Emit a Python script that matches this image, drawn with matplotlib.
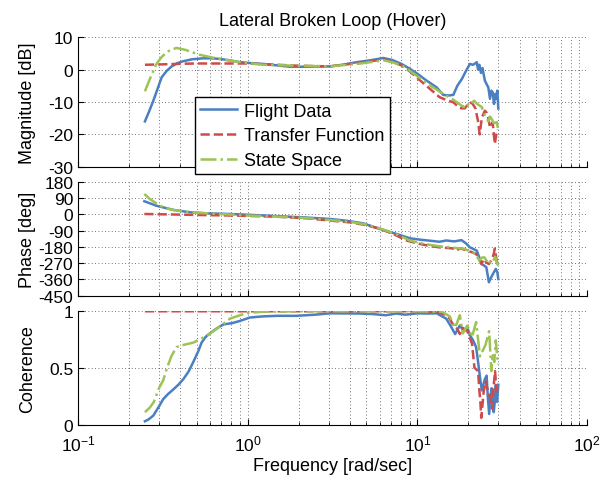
import matplotlib
matplotlib.use("Agg")
import matplotlib.pyplot as plt
from matplotlib.ticker import LogLocator, NullFormatter

plt.rcParams['font.family'] = ['Liberation Sans', 'DejaVu Sans']
plt.rcParams['axes.unicode_minus'] = False
plt.rcParams['mathtext.fontset'] = 'custom'
plt.rcParams['mathtext.rm'] = 'Liberation Sans'

# --- magnitude [dB] ---
mag_fd_w = [0.248, 0.263, 0.278, 0.295, 0.311, 0.333, 0.356, 0.385, 0.417, 0.47, 0.547, 0.62, 0.686, 0.8,
            0.90, 1.05, 1.24, 1.5, 1.77, 2.2, 2.6, 3.05, 3.6, 4.39, 5.3, 6.3, 7.1, 8.07, 9.0, 9.9, 11.2,
            13.0, 14.2, 15.3, 16.3, 17.2, 18.3, 19.3, 20.4, 21.3, 22.0, 22.4, 22.8, 23.2, 23.7, 24.2,
            25.0, 25.6, 26.2, 26.8, 27.3, 27.8, 28.3, 28.8, 29.2, 29.6, 30.0]
mag_fd = [-16.0, -12.8, -9.6, -5.8, -2.4, -0.4, 1.0, 2.0, 2.6, 3.2, 3.5, 3.5, 3.3, 2.8,
          2.3, 2.0, 1.75, 1.3, 0.9, 0.9, 0.95, 1.0, 1.5, 2.3, 2.9, 3.6, 3.0, 1.75, 0.3, -1.1, -3.2,
          -5.5, -7.8, -8.0, -7.8, -5.0, -2.9, -0.5, 1.75, 1.5, 2.0, 2.3, 0.0, 1.5, -1.0, 0.5,
          -3.4, -4.5, -5.5, -9.0, -6.5, -7.0, -10.6, -7.5, -9.0, -6.5, -12.0]

mag_tf_w = [0.248, 0.3, 0.4, 0.5, 0.7, 1.0, 1.5, 2.0, 3.05, 4.39, 5.3, 6.3, 7.1, 8.07, 9.0, 9.9, 11.9,
            13.5, 15.0, 16.3, 17.8, 19.0, 20.4, 21.2, 22.0, 22.8, 23.3, 24.0, 25.0, 25.6, 26.2, 26.8,
            27.8, 28.6, 29.2, 29.8]
mag_tf = [1.5, 1.6, 1.8, 1.9, 1.9, 1.9, 1.5, 1.2, 1.0, 2.0, 2.6, 3.2, 2.4, 1.3, -0.5, -2.4, -6.0,
          -8.5, -9.5, -10.1, -11.9, -12.0, -10.0, -10.6, -12.0, -16.0, -20.0, -14.8, -12.7, -13.3, -15.0, -17.9,
          -16.3, -23.0, -20.0, -18.5]

mag_ss_w = [0.248, 0.265, 0.29, 0.31, 0.333, 0.355, 0.381, 0.43, 0.52, 0.65, 0.9, 1.24, 2.0, 3.0, 4.4,
            5.3, 6.3, 7.1, 8.1, 9.0, 9.9, 11.9, 14.2, 16.3, 17.5, 18.8, 19.1, 20.4, 21.6, 22.5, 24.0,
            25.0, 26.2, 26.8, 27.6, 28.6, 29.2, 29.8]
mag_ss = [-6.7, -2.9, 1.75, 3.8, 5.4, 6.2, 6.7, 6.1, 4.6, 3.5, 2.3, 1.5, 1.2, 1.0, 1.75,
          2.3, 2.9, 2.3, 1.3, -0.3, -1.9, -4.9, -7.5, -9.3, -10.5, -11.6, -10.6, -11.1, -9.6, -10.6, -11.6,
          -14.0, -16.0, -14.5, -15.5, -17.4, -15.4, -18.0]

# --- phase [deg] ---
ph_fd_w = [0.246, 0.29, 0.365, 0.456, 0.573, 0.787, 0.985, 1.55, 2.2, 3.06, 3.84, 4.78, 6.0, 7.55, 9.06,
           10.5, 11.8, 13.5, 14.8, 16.5, 18.2, 19.3, 20.4, 21.4, 22.4, 23.2, 23.9, 24.7, 25.5, 26.4,
           27.2, 27.9, 29.0, 29.6, 30.0]
ph_fd = [72, 47, 24, 11, 5, 1.5, -2.4, -11, -18, -26, -36, -50, -81, -109, -133,
         -141, -146, -152, -145, -150, -143, -160, -183, -192, -201, -240, -275, -283, -293, -376,
         -350, -330, -302, -320, -358]

ph_tf_w = [0.246, 0.3, 0.4, 0.5, 0.7, 1.0, 1.5, 2.2, 3.06, 4.0, 5.0, 6.0, 7.2, 8.7, 10.3, 12.0, 13.5,
           15.0, 16.5, 17.0, 17.8, 19.0, 21.0, 22.2, 23.2, 23.9, 24.6, 25.5, 26.4, 27.5, 28.2, 28.6,
           29.4, 30.0]
ph_tf = [1.5, 0, -2, -4, -6, -9, -14, -22, -35, -45, -60, -80, -109, -146, -164, -176, -183,
         -186, -190, -201, -188, -196, -210, -219, -250, -275, -247, -266, -275, -250, -219, -190,
         -260, -275]

ph_ss_w = [0.246, 0.265, 0.29, 0.317, 0.36, 0.42, 0.5, 0.7, 1.0, 1.5, 2.2, 3.06, 4.0, 5.0, 6.0, 7.2,
           8.0, 9.0, 10.5, 12.0, 13.5, 15.5, 17.0, 18.8, 20.4, 22.0, 23.2, 23.9, 24.8, 25.5, 26.4,
           27.2, 28.0, 28.8, 29.4, 30.0]
ph_ss = [112, 84, 60, 38.5, 24, 16, 8, 1, -7, -13, -21, -32, -42, -57, -78, -104,
         -121, -145, -160, -170, -177, -183, -187, -190, -205, -219, -256, -240, -238, -255, -275,
         -250, -256, -235, -270, -284]

# --- coherence ---
coh_fd_w = [0.248, 0.26, 0.278, 0.3, 0.318, 0.34, 0.365, 0.39, 0.418, 0.45, 0.478, 0.51, 0.535, 0.565,
            0.598, 0.65, 0.72, 0.805, 0.9, 1.03, 1.23, 1.5, 1.94, 2.5, 3.06, 4.6, 5.5, 6.5, 7.5, 8.5,
            10.0, 11.5, 13.0, 14.8, 15.8, 16.7, 17.8, 18.8, 19.7, 20.5, 21.3, 22.2, 22.8, 23.4, 24.0,
            24.5, 25.0, 25.6, 26.0, 26.5, 27.0, 27.4, 27.8, 28.2, 28.6, 29.0, 29.5, 30.0]
coh_fd = [0.03, 0.045, 0.08, 0.16, 0.225, 0.27, 0.31, 0.35, 0.40, 0.47, 0.55, 0.64, 0.72, 0.77,
          0.80, 0.84, 0.88, 0.89, 0.91, 0.94, 0.95, 0.955, 0.955, 0.965, 0.977, 0.975, 0.97, 0.96, 0.975, 0.965,
          0.977, 0.975, 0.977, 0.93, 0.86, 0.795, 0.87, 0.82, 0.85, 0.78, 0.74, 0.68, 0.55, 0.415, 0.30,
          0.35, 0.40, 0.43, 0.25, 0.094, 0.25, 0.32, 0.2, 0.11, 0.2, 0.35, 0.2, 0.35]

coh_tf_w = [0.248, 0.5, 1.0, 2.0, 5.0, 10.0, 13.0, 14.3, 15.5, 16.5, 17.2, 17.8, 18.5, 19.7, 21.0,
            21.7, 22.8, 23.2, 23.5, 23.8, 24.6, 25.3, 26.0, 26.6, 27.2, 27.6, 28.2, 28.7, 29.3, 30.0]
coh_tf = [0.995, 0.995, 0.995, 0.995, 0.995, 0.995, 0.99, 0.97, 0.93, 0.86, 0.84, 0.795, 0.85, 0.82, 0.71,
          0.5, 0.47, 0.3, 0.21, 0.06, 0.29, 0.38, 0.3, 0.26, 0.2, 0.14, 0.35, 0.47, 0.3, 0.32]

coh_ss_w = [0.248, 0.265, 0.28, 0.3, 0.318, 0.335, 0.355, 0.38, 0.42, 0.478, 0.54, 0.6, 0.7, 0.786,
            0.9, 0.99, 1.2, 2.0, 5.0, 10.0, 14.0, 15.5, 16.7, 17.8, 18.5, 19.7, 21.0, 22.2, 23.4,
            24.3, 25.2, 26.5, 27.3, 27.8, 28.4, 29.0, 29.5, 30.0]
coh_ss = [0.11, 0.15, 0.2, 0.32, 0.39, 0.5, 0.6, 0.68, 0.70, 0.72, 0.76, 0.80, 0.87, 0.93,
          0.96, 0.98, 0.99, 0.995, 0.995, 0.995, 0.99, 0.95, 0.85, 0.96, 0.8, 0.87, 0.77, 0.9, 0.6,
          0.65, 0.7, 0.82, 0.47, 0.62, 0.55, 0.74, 0.6, 0.53]

labels = ["Flight Data", "Transfer Function", "State Space"]
c_fd, c_tf, c_ss = '#4A7FC1', '#CF4A4A', '#9CC354'
lw = 1.8
grid_kw = dict(color='#444444', linestyle=(0, (1, 3)), linewidth=0.6)

fig = plt.figure(figsize=(6.08, 4.81), dpi=100)
ax1 = fig.add_axes([0.1283, 0.6514, 0.8372, 0.269])
ax2 = fig.add_axes([0.1283, 0.3832, 0.8372, 0.237])
ax3 = fig.add_axes([0.1283, 0.1150, 0.8372, 0.237])
ax1.set_zorder(3)

ax1.plot(mag_fd_w, mag_fd, '-', color=c_fd, lw=lw, label=labels[0])
ax1.plot(mag_tf_w, mag_tf, '--', color=c_tf, lw=lw, label=labels[1])
ax1.plot(mag_ss_w, mag_ss, '-.', color=c_ss, lw=lw, label=labels[2])

ax2.plot(ph_fd_w, ph_fd, '-', color=c_fd, lw=lw)
ax2.plot(ph_tf_w, ph_tf, '--', color=c_tf, lw=lw)
ax2.plot(ph_ss_w, ph_ss, '-.', color=c_ss, lw=lw)

ax3.plot(coh_fd_w, coh_fd, '-', color=c_fd, lw=lw)
ax3.plot(coh_tf_w, coh_tf, '--', color=c_tf, lw=lw)
ax3.plot(coh_ss_w, coh_ss, '-.', color=c_ss, lw=lw)

ax1.set_ylim(-30, 10)
ax1.set_yticks([-30, -20, -10, 0, 10])
ax2.set_ylim(-450, 180)
ax2.set_yticks(range(-450, 181, 90))
ax3.set_ylim(0, 1)
ax3.set_yticks([0, 0.5, 1])
ax3.set_yticklabels(['0', '0.5', '1'])

for ax in (ax1, ax2, ax3):
    ax.set_xscale('log')
    ax.set_xlim(0.1, 100)
    ax.xaxis.set_minor_locator(LogLocator(base=10, subs=range(2, 10), numticks=20))
    ax.spines['top'].set_visible(False)
    ax.spines['right'].set_visible(False)
    ax.tick_params(which='both', direction='in', labelsize=12.5, top=False, right=False)
    ax.tick_params(which='major', length=4)
    ax.tick_params(which='minor', length=2.5)
    ax.tick_params(axis='x', pad=6)
    ax.grid(True, which='major', axis='y', **grid_kw)
    ax.grid(True, which='both', axis='x', **grid_kw)
    ax.xaxis.set_minor_formatter(NullFormatter())

for ax in (ax1, ax2):
    ax.tick_params(labelbottom=False)

ax1.set_ylabel("Magnitude [dB]", fontsize=13)
ax2.set_ylabel("Phase [deg]", fontsize=13)
ax3.set_ylabel("Coherence", fontsize=13)
for ax in (ax1, ax2, ax3):
    ax.yaxis.set_label_coords(-0.082, 0.5)
ax3.set_xlabel("Frequency [rad/sec]", fontsize=13, labelpad=3)
ax1.set_title("Lateral Broken Loop (Hover)", fontsize=13, pad=9)

leg = ax1.legend(loc='upper left', bbox_to_anchor=(0.23, 0.536), borderaxespad=0,
                 fontsize=13, fancybox=False, framealpha=1, edgecolor='black',
                 labelspacing=0.42, handlelength=2.0, borderpad=0.3, handletextpad=0.4)
leg.get_frame().set_linewidth(1.0)

fig.savefig("out.png", dpi=100)
